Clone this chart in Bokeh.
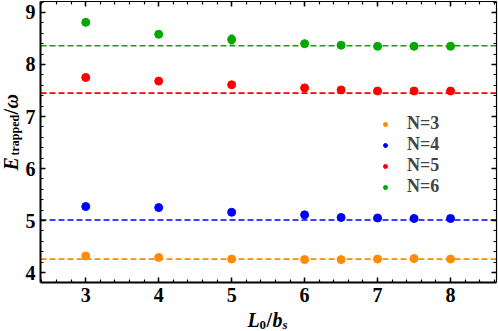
import math
from bokeh.plotting import figure
from bokeh.models import (ColumnDataSource, Label, Legend, LegendItem, LinearAxis,
                          SingleIntervalTicker, Range1d, Whisker, TeeHead)
from bokeh.embed import file_html
from bokeh.resources import INLINE

# ---- data ----
L0_over_bs = [3, 4, 5, 6, 6.5, 7, 7.5, 8]
E_N3 = [4.32, 4.29, 4.26, 4.25, 4.25, 4.26, 4.27, 4.26]
E_N4 = [5.27, 5.25, 5.16, 5.11, 5.06, 5.05, 5.04, 5.04]
E_N5 = [7.75, 7.68, 7.61, 7.55, 7.51, 7.49, 7.49, 7.49]
E_N6 = [8.81, 8.58, 8.48, 8.40, 8.37, 8.35, 8.35, 8.35]
err_N3 = [0.02, 0.015, 0.015, 0.01, 0.01, 0.01, 0.01, 0.01]
err_N4 = [0.02, 0.03, 0.04, 0.015, 0.01, 0.01, 0.01, 0.01]
err_N5 = [0.02, 0.02, 0.04, 0.02, 0.015, 0.01, 0.01, 0.01]
err_N6 = [0.03, 0.04, 0.08, 0.02, 0.015, 0.01, 0.01, 0.01]
limits = [4.26, 5.01, 7.45, 8.36]
labels = ["N=3", "N=4", "N=5", "N=6"]
colors = ["#ff8c00", "#0000ff", "#ff0000", "#00a800"]

# plot box (axis extents)
X_LO, X_HI = 2.38, 8.63
Y_LO, Y_HI = 3.81, 9.21

W, H = 498, 331
BOX_L, BOX_R, BOX_T, BOX_B = 40, 496, 1, 282   # pixel edges of the framed box
kx = (BOX_R - BOX_L) / (X_HI - X_LO)
ky = (BOX_B - BOX_T) / (Y_HI - Y_LO)

SERIF = "Liberation Serif"

p = figure(width=W, height=H, output_backend="svg", toolbar_location=None,
           x_range=Range1d(X_LO - BOX_L / kx, X_HI + (W - BOX_R) / kx),
           y_range=Range1d(Y_LO - (H - BOX_B) / ky, Y_HI + BOX_T / ky),
           min_border=0, min_border_left=0, min_border_right=0,
           min_border_top=0, min_border_bottom=0)
p.grid.visible = False
p.outline_line_color = None
p.background_fill_color = "white"
p.border_fill_color = "white"

def style_axis(ax, bounds, loc, show_labels, lw):
    ax.ticker = SingleIntervalTicker(interval=1, num_minor_ticks=5)
    ax.bounds = bounds
    ax.fixed_location = loc
    ax.major_tick_in = 5
    ax.major_tick_out = 0
    ax.minor_tick_in = 3
    ax.minor_tick_out = 0
    ax.axis_line_width = lw
    ax.major_tick_line_width = 1.5
    ax.minor_tick_line_width = 1.2
    ax.major_label_text_font = SERIF
    ax.major_label_text_font_style = "bold"
    ax.major_label_text_font_size = "20px"
    ax.major_label_text_color = "black" if show_labels else None
    ax.major_label_standoff = 5

style_axis(p.xaxis[0], (X_LO, X_HI), Y_LO, True, 2)
style_axis(p.yaxis[0], (Y_LO, Y_HI), X_LO, True, 2)
top = LinearAxis()
style_axis(top, (X_LO, X_HI), Y_HI, False, 1.2)
p.add_layout(top, "above")
right = LinearAxis()
style_axis(right, (Y_LO, Y_HI), X_HI, False, 1.2)
p.add_layout(right, "right")

# dashed reference levels
lim_src = ColumnDataSource(dict(x0=[X_LO] * 4, x1=[X_HI] * 4, y=limits, c=colors))
p.segment(x0="x0", x1="x1", y0="y", y1="y", color="c", source=lim_src,
          line_width=1.6, line_dash="6 3")

series = [E_N3, E_N4, E_N5, E_N6]
errs = [err_N3, err_N4, err_N5, err_N6]
items = []
for ys, es, lab, col in zip(series, errs, labels, colors):
    src = ColumnDataSource(dict(x=L0_over_bs, y=ys,
                                lo=[y - e for y, e in zip(ys, es)],
                                hi=[y + e for y, e in zip(ys, es)]))
    p.add_layout(Whisker(source=src, base="x", lower="lo", upper="hi",
                         line_color=col, line_width=2,
                         lower_head=TeeHead(size=4, line_color=col, line_width=1.5),
                         upper_head=TeeHead(size=4, line_color=col, line_width=1.5)))
    r = p.scatter("x", "y", source=src, size=8, color=col)
    items.append(LegendItem(label=lab, renderers=[r]))

leg = Legend(items=items, location=(380, 134), padding=0, margin=0, spacing=0,
             glyph_width=10, glyph_height=20, label_height=20, label_standoff=17,
             label_text_font=SERIF, label_text_font_style="bold",
             label_text_font_size="18px", border_line_alpha=0,
             background_fill_alpha=0)
p.add_layout(leg)

# ---- axis titles as text pieces (screen px, from bottom-left of canvas) ----
def lab(text, x, y, size, style, angle=0.0):
    p.add_layout(Label(x=x, y=y, x_units="screen", y_units="screen", text=text,
                       text_font=SERIF, text_font_size=size, text_font_style=style,
                       text_color="black", angle=angle, text_align="left",
                       text_baseline="middle"))

# x title: L_0 / b_s
lab("L", 247, 12, "20px", "bold italic")
lab("0", 259, 7, "13px", "bold")
lab("/", 266, 12, "20px", "bold")
lab("b", 272, 12, "20px", "bold italic")
lab("s", 282, 7, "13px", "bold italic")

# y title: E_trapped / ω (rotated)
a = math.pi / 2
lab("E", 10, 161, "20px", "bold italic", a)
lab("trapped", 14, 176, "12px", "bold", a)
lab("/", 10, 217, "20px", "bold", a)
lab("ω", 10, 223, "20px", "bold italic", a)

open("out.html", "w").write(file_html(p, INLINE))
